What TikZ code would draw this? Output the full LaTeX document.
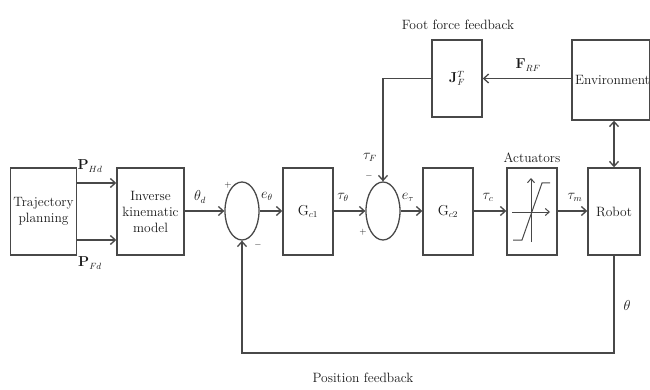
\documentclass[tikz,border=0pt]{standalone}
\usetikzlibrary{arrows.meta,shapes.geometric}
\definecolor{linecol}{HTML}{484848}
\begin{document}
\begin{tikzpicture}[x=1pt,y=-1pt,
  every node/.style={font=\fontsize{13.5}{16}\selectfont, text=black!90},
  blk/.style={draw=linecol, line width=1.4pt, inner sep=0pt, align=center},
  sumnode/.style={draw=linecol, line width=1.3pt, ellipse, inner sep=0pt, minimum width=34pt, minimum height=58pt},
  arr/.style={draw=linecol, line width=1.3pt, -{Straight Barb[length=5pt,width=9pt]}},
  lbl/.style={inner sep=1pt}]
\useasboundingbox (0,0) rectangle (650,390);
% blocks
\node[blk, minimum width=66pt, minimum height=87pt] (traj) at (43.5,211.5) {Trajectory\\planning};
\node[blk, minimum width=67pt, minimum height=87pt] (inv) at (150.5,211.5) {Inverse\\kinematic\\model};
\node[sumnode] (s1) at (242,211) {};
\node[blk, minimum width=50pt, minimum height=87pt] (gc1) at (308,211.5) {$\mathrm{G}_{c1}$};
\node[sumnode] (s2) at (383,211) {};
\node[blk, minimum width=50pt, minimum height=87pt] (gc2) at (448,211.5) {$\mathrm{G}_{c2}$};
\node[blk, minimum width=50pt, minimum height=87pt] (act) at (532,211.5) {};
\node[blk, minimum width=52pt, minimum height=87pt] (robot) at (614,211.5) {Robot};
\node[blk, minimum width=50pt, minimum height=77pt] (jac) at (457,78.5) {$\mathbf{J}^{T}_{F}$};
\node[blk, minimum width=76pt, minimum height=80pt] (env) at (611,80) {\hspace*{3pt}Environment};
% saturation symbol
\draw[draw=linecol, line width=1pt, -{Straight Barb[length=4pt,width=7pt]}] (512,212) -- (550,212);
\draw[draw=linecol, line width=1pt, -{Straight Barb[length=4pt,width=7pt]}] (531,242) -- (531,178);
\draw[draw=linecol, line width=1pt] (513,240) -- (522,240) -- (542,183) -- (550,183);
% helper coordinates
\coordinate (hH) at (0,183);
\coordinate (hF) at (0,240);
\coordinate (fb) at (0,353);
\coordinate (jx) at (383,0);
% forward path
\draw[arr] (traj.east |- hH) -- (inv.west |- hH);
\draw[arr] (traj.east |- hF) -- (inv.west |- hF);
\draw[arr] (inv.east |- s1.west) -- (s1.west);
\draw[arr] (s1.east) -- (gc1.west |- s1.east);
\draw[arr] (gc1.east |- s2.west) -- (s2.west);
\draw[arr] (s2.east) -- (gc2.west |- s2.east);
\draw[arr] (gc2.east |- s2.east) -- (act.west |- s2.east);
\draw[arr] (act.east |- s2.east) -- (robot.west |- s2.east);
% feedbacks
\draw[arr] (robot.south) -- (robot.south |- fb) -- (s1.south |- fb) -- (s1.south);
\draw[arr] (env.west |- jac.east) -- (jac.east);
\draw[arr] (jac.west) -- (jx |- jac.west) -- (s2.north);
\draw[draw=linecol, line width=1.3pt, {Straight Barb[length=5pt,width=9pt]}-{Straight Barb[length=5pt,width=9pt]}] (robot.north) -- (robot.north |- env.south);
% labels
\node[lbl] (lPH) at (90,166) {$\mathbf{P}_{Hd}$};
\node[lbl] (lPF) at (90,263) {$\mathbf{P}_{Fd}$};
\node[lbl] (lthd) at (200,197) {$\theta_d$};
\node[lbl] (lp1) at (228,185) {\small $+$};
\node[lbl] (lm1) at (258,245) {\small $-$};
\node[lbl] (leth) at (267,196) {$e_\theta$};
\node[lbl] (ltth) at (343,197) {$\tau_\theta$};
\node[lbl] (lm2) at (369,176) {\small $-$};
\node[lbl] (lp2) at (363,232) {\small $+$};
\node[lbl] (letau) at (408,197) {$e_\tau$};
\node[lbl] (ltc) at (488,197) {$\tau_c$};
\node[lbl] (lact) at (532,158) {Actuators};
\node[lbl] (ltm) at (575,197) {$\tau_m$};
\node[lbl] (lth) at (627,305) {$\theta$};
\node[lbl] (lpf) at (363,378) {Position feedback};
\node[lbl] (lff) at (458,25) {Foot force feedback};
\node[lbl] (lFRF) at (528,65) {$\mathbf{F}_{RF}$};
\node[lbl] (ltF) at (370,157) {$\tau_F$};
\end{tikzpicture}
\end{document}
